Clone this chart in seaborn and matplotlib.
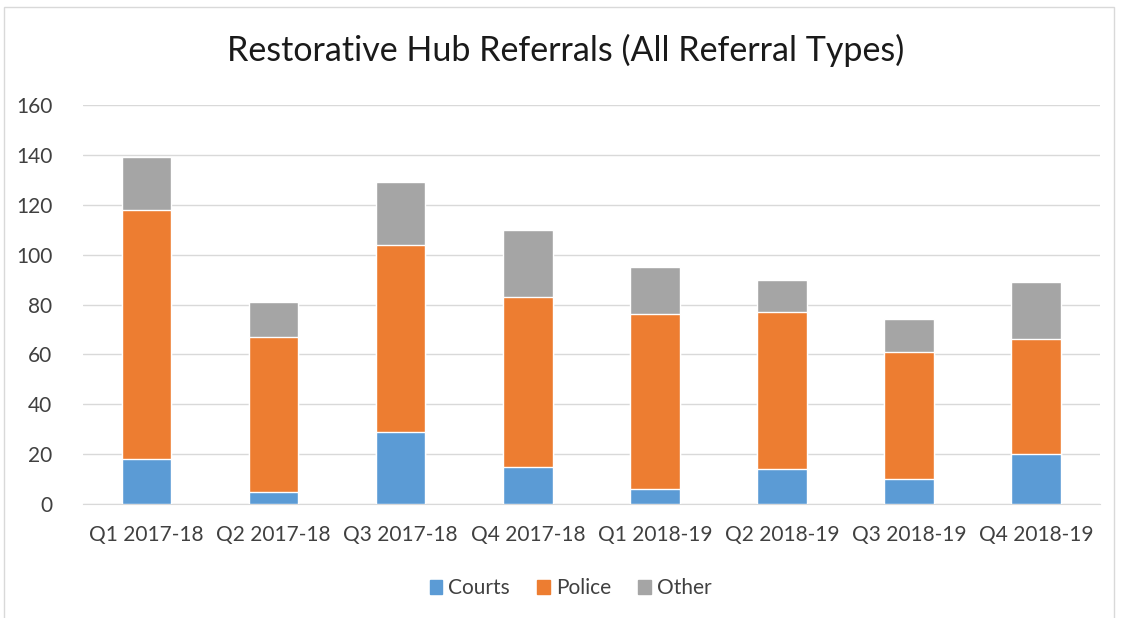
import pandas as pd
import seaborn as sns
import matplotlib.pyplot as plt
from matplotlib.patches import Rectangle, Patch

quarters = ["Q1 2017-18", "Q2 2017-18", "Q3 2017-18", "Q4 2017-18",
            "Q1 2018-19", "Q2 2018-19", "Q3 2018-19", "Q4 2018-19"]
courts = [18, 5, 29, 15, 6, 14, 10, 20]
police = [100, 62, 75, 68, 70, 63, 51, 46]
other = [21, 14, 25, 27, 19, 13, 13, 23]

df = pd.DataFrame({"quarter": quarters, "Courts": courts, "Police": police, "Other": other})
df["cp"] = df["Courts"] + df["Police"]
df["total"] = df["cp"] + df["Other"]

blue = "#5b9bd5"
orange = "#ed7d31"
grey = "#a5a5a5"

sns.set_style("white")
plt.rcParams["font.family"] = ["Lato", "DejaVu Sans"]

fig = plt.figure(figsize=(11.21, 6.18), dpi=100)
ax = fig.add_axes([0.074, 0.1845, 0.907, 0.6455])

# stacked look: draw cumulative totals from tallest to shortest
sns.barplot(data=df, x="quarter", y="total", color=grey, width=0.39, saturation=1, ax=ax, zorder=2)
sns.barplot(data=df, x="quarter", y="cp", color=orange, width=0.39, saturation=1, ax=ax, zorder=3)
sns.barplot(data=df, x="quarter", y="Courts", color=blue, width=0.39, saturation=1, ax=ax, zorder=4)

ax.set_ylim(0, 160)
ax.set_yticks(range(0, 161, 20))
ax.set_xlim(-0.5, 7.5)
ax.yaxis.grid(True, color="#d9d9d9", linewidth=1)
ax.set_axisbelow(True)
for s in ["top", "right", "left"]:
    ax.spines[s].set_visible(False)
ax.spines["bottom"].set_color("#d9d9d9")
ax.tick_params(axis="both", length=0, labelsize=15, labelcolor="#404040")
ax.tick_params(axis="x", pad=15)
ax.tick_params(axis="y", pad=22)
ax.set_xlabel("")
ax.set_ylabel("")

fig.suptitle("Restorative Hub Referrals (All Referral Types)", x=0.505, y=0.945,
             fontsize=24.5, color="#1a1a1a")

handles = [Patch(color=blue, label="Courts"), Patch(color=orange, label="Police"),
           Patch(color=grey, label="Other")]
fig.legend(handles=handles, loc="center", bbox_to_anchor=(0.509, 0.048), ncol=3,
           frameon=False, fontsize=15, handlelength=0.6, handleheight=0.6,
           handletextpad=0.3, columnspacing=1.3, labelcolor="#404040")

fig.patches.append(Rectangle((0.004, -0.01), 0.99, 0.998, transform=fig.transFigure,
                             fill=False, edgecolor="#d9d9d9", linewidth=1))

fig.savefig("out.png", dpi=100)
